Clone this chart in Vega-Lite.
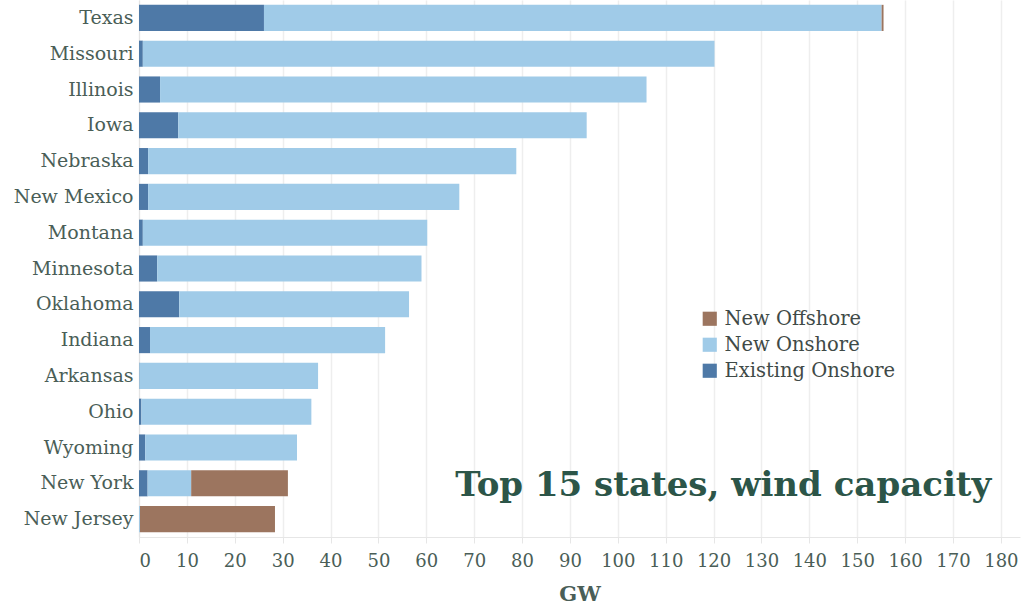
{
  "$schema": "https://vega.github.io/schema/vega-lite/v6.json",
  "width": 881,
  "height": 537,
  "autosize": {"type": "none"},
  "padding": {"left": 139, "top": 0, "right": 2, "bottom": 67},
  "background": "white",
  "config": {
    "view": {"stroke": null},
    "font": "DejaVu Serif",
    "axis": {"labelFont": "DejaVu Serif", "titleFont": "DejaVu Serif"},
    "legend": {"labelFont": "DejaVu Serif"}
  },
  "datasets": {
    "wind": [
      {"state": "Texas", "type": "Existing Onshore", "gw": 26.1, "ord": 1},
      {"state": "Texas", "type": "New Onshore", "gw": 129.0, "ord": 2},
      {"state": "Texas", "type": "New Offshore", "gw": 0.4, "ord": 3},
      {"state": "Missouri", "type": "Existing Onshore", "gw": 0.8, "ord": 1},
      {"state": "Missouri", "type": "New Onshore", "gw": 119.4, "ord": 2},
      {"state": "Illinois", "type": "Existing Onshore", "gw": 4.4, "ord": 1},
      {"state": "Illinois", "type": "New Onshore", "gw": 101.6, "ord": 2},
      {"state": "Iowa", "type": "Existing Onshore", "gw": 8.2, "ord": 1},
      {"state": "Iowa", "type": "New Onshore", "gw": 85.3, "ord": 2},
      {"state": "Nebraska", "type": "Existing Onshore", "gw": 1.9, "ord": 1},
      {"state": "Nebraska", "type": "New Onshore", "gw": 76.9, "ord": 2},
      {"state": "New Mexico", "type": "Existing Onshore", "gw": 1.9, "ord": 1},
      {"state": "New Mexico", "type": "New Onshore", "gw": 65.0, "ord": 2},
      {"state": "Montana", "type": "Existing Onshore", "gw": 0.8, "ord": 1},
      {"state": "Montana", "type": "New Onshore", "gw": 59.4, "ord": 2},
      {"state": "Minnesota", "type": "Existing Onshore", "gw": 3.8, "ord": 1},
      {"state": "Minnesota", "type": "New Onshore", "gw": 55.2, "ord": 2},
      {"state": "Oklahoma", "type": "Existing Onshore", "gw": 8.4, "ord": 1},
      {"state": "Oklahoma", "type": "New Onshore", "gw": 48.0, "ord": 2},
      {"state": "Indiana", "type": "Existing Onshore", "gw": 2.3, "ord": 1},
      {"state": "Indiana", "type": "New Onshore", "gw": 49.1, "ord": 2},
      {"state": "Arkansas", "type": "Existing Onshore", "gw": 0.1, "ord": 1},
      {"state": "Arkansas", "type": "New Onshore", "gw": 37.3, "ord": 2},
      {"state": "Ohio", "type": "Existing Onshore", "gw": 0.5, "ord": 1},
      {"state": "Ohio", "type": "New Onshore", "gw": 35.5, "ord": 2},
      {"state": "Wyoming", "type": "Existing Onshore", "gw": 1.3, "ord": 1},
      {"state": "Wyoming", "type": "New Onshore", "gw": 31.7, "ord": 2},
      {"state": "New York", "type": "Existing Onshore", "gw": 1.8, "ord": 1},
      {"state": "New York", "type": "New Onshore", "gw": 9.1, "ord": 2},
      {"state": "New York", "type": "New Offshore", "gw": 20.2, "ord": 3},
      {"state": "New Jersey", "type": "New Onshore", "gw": 0.2, "ord": 2},
      {"state": "New Jersey", "type": "New Offshore", "gw": 28.2, "ord": 3}
    ],
    "caption": [
      {"text": "Top 15 states, wind capacity", "xpos": 178, "row": "New York"}
    ]
  },
  "layer": [
    {
      "data": {"name": "wind"},
      "mark": {"type": "bar"},
      "encoding": {
        "y": {
          "field": "state",
          "type": "nominal",
          "sort": null,
          "scale": {
            "domain": ["Texas", "Missouri", "Illinois", "Iowa", "Nebraska", "New Mexico", "Montana", "Minnesota", "Oklahoma", "Indiana", "Arkansas", "Ohio", "Wyoming", "New York", "New Jersey"],
            "paddingInner": 0.27,
            "paddingOuter": 0.135
          },
          "axis": {
            "title": null,
            "ticks": false,
            "domain": true,
            "domainColor": "#e4e4e4",
            "labelFontSize": 19,
            "labelColor": "#4a5e57",
            "labelPadding": 6
          }
        },
        "x": {
          "field": "gw",
          "type": "quantitative",
          "stack": "zero",
          "scale": {"domain": [0, 184], "nice": false},
          "axis": {
            "title": "GW",
            "values": [0, 10, 20, 30, 40, 50, 60, 70, 80, 90, 100, 110, 120, 130, 140, 150, 160, 170, 180],
            "grid": true,
            "gridColor": "#eeeeee",
            "gridWidth": 1.5,
            "domainColor": "#e6e6e6",
            "tickColor": "#e6e6e6",
            "tickSize": 6,
            "labelFontSize": 18,
            "labelColor": "#4a5e57",
            "labelPadding": 9,
            "titleFontSize": 21,
            "titleFontWeight": "bold",
            "titleColor": "#4a5e57",
            "titlePadding": 13
          }
        },
        "color": {
          "field": "type",
          "type": "nominal",
          "scale": {
            "domain": ["New Offshore", "New Onshore", "Existing Onshore"],
            "range": ["#9c755f", "#a0cbe8", "#4e79a7"]
          },
          "legend": {
            "title": null,
            "orient": "none",
            "legendX": 561,
            "legendY": 309,
            "symbolType": "square",
            "symbolSize": 200,
            "symbolStrokeWidth": 0,
            "labelFontSize": 19.5,
            "labelColor": "#3f4a47",
            "labelLimit": 400,
            "rowPadding": 5,
            "labelOffset": 5
          }
        },
        "order": {"field": "ord", "type": "quantitative"}
      }
    },
    {
      "data": {"name": "caption"},
      "mark": {"type": "text", "align": "right", "baseline": "middle", "dy": 3, "fontSize": 34, "fontWeight": "bold", "color": "#2c5548", "font": "DejaVu Serif"},
      "encoding": {
        "x": {"field": "xpos", "type": "quantitative"},
        "y": {"field": "row", "type": "nominal"},
        "text": {"field": "text"}
      }
    }
  ]
}
